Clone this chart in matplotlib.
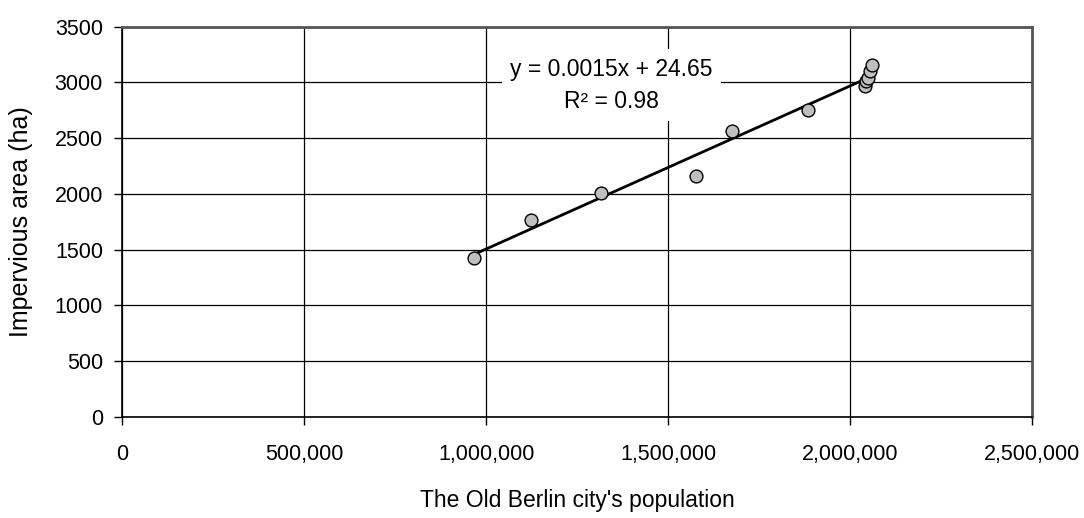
import matplotlib.pyplot as plt
from matplotlib.ticker import FuncFormatter
import numpy as np

plt.rcParams['font.family'] = ['Liberation Sans', 'DejaVu Sans']

# population of the old Berlin city vs. impervious area
population = [965600, 1124000, 1315600, 1575900, 1674800, 1885400,
              2040000, 2045000, 2049000, 2055000, 2061000]
impervious = [1427, 1766, 2005, 2158, 2567, 2756,
              2970, 3010, 3040, 3100, 3157]

eq_text = "y = 0.0015x + 24.65"
r2_text = "R\u00b2 = 0.98"

xticks = [0, 500000, 1000000, 1500000, 2000000, 2500000]
yticks = [0, 500, 1000, 1500, 2000, 2500, 3000, 3500]

fig = plt.figure(figsize=(10.84, 5.18), dpi=100)
ax = fig.add_axes([0.1129, 0.1956, 0.8391, 0.7529])

ax.set_xlim(0, 2500000)
ax.set_ylim(0, 3500)
ax.set_xticks(xticks)
ax.set_yticks(yticks)
ax.xaxis.set_major_formatter(FuncFormatter(lambda v, p: f"{int(v):,}"))
ax.grid(True, color='black', linewidth=0.9)
ax.set_axisbelow(True)

for s in ['top', 'right']:
    ax.spines[s].set_color('#555555')
    ax.spines[s].set_linewidth(2)
for s in ['left', 'bottom']:
    ax.spines[s].set_color('black')
    ax.spines[s].set_linewidth(1.2)

ax.tick_params(axis='both', direction='out', length=6, width=1, labelsize=15.5,
               colors='black')
ax.tick_params(axis='y', pad=8)
ax.tick_params(axis='x', pad=14)

# least squares trend line over the data range
coef = np.polyfit(population, impervious, 1)
xfit = np.array([min(population), max(population)])
ax.plot(xfit, np.polyval(coef, xfit), color='black', linewidth=2, zorder=3)

ax.scatter(population, impervious, s=85, facecolor='#bfbfbf',
           edgecolor='black', linewidth=1, zorder=4)

ax.text(1345000, 2975, eq_text + "\n" + r2_text,
        ha='center', va='center', fontsize=16.5, linespacing=1.5,
        bbox=dict(facecolor='white', edgecolor='none', pad=6), zorder=5)

ax.set_xlabel("The Old Berlin city's population", fontsize=16.5, labelpad=17)
ax.set_ylabel("Impervious area (ha)", fontsize=18)
ax.yaxis.set_label_coords(-0.0985, 0.5)

fig.savefig('out.png', dpi=100)
